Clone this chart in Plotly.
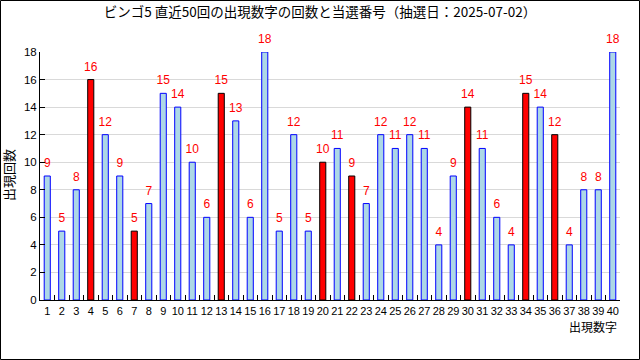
import plotly.graph_objects as go

numbers = [str(i) for i in range(1, 41)]
counts = [9, 5, 8, 16, 12, 9, 5, 7, 15, 14, 10, 6, 15, 13, 6, 18, 5, 12, 5, 10,
          11, 9, 7, 12, 11, 12, 11, 4, 9, 14, 11, 6, 4, 15, 14, 12, 4, 8, 8, 18]
winning = ["4", "7", "13", "20", "22", "30", "34", "36"]

title_text = "ビンゴ5 直近50回の出現数字の回数と当選番号（抽選日：2025-07-02）"
x_title = "出現数字"
y_title = "出現回数"

fill = ["#FF0000" if n in winning else "#ADD8E6" for n in numbers]
edge = ["#000000" if n in winning else "#0000FF" for n in numbers]

W, H = 640, 360
L, R, T, B = 40, 20, 52, 60
pw, ph = W - L - R, H - T - B

fig = go.Figure()
fig.add_trace(go.Bar(
    x=numbers, y=counts,
    marker=dict(color=fill, line=dict(color=edge, width=1)),
    width=0.42, hoverinfo="x+y",
))
fig.add_trace(go.Scatter(
    x=numbers, y=counts, mode="markers+text", text=[str(c) for c in counts],
    textposition="top center", cliponaxis=False,
    marker=dict(size=8, opacity=0),
    textfont=dict(color="#FF0000", size=12, family="Liberation Sans"),
    hoverinfo="skip",
))

fig.update_layout(
    width=W, height=H, margin=dict(l=L, r=R, t=T, b=B),
    paper_bgcolor="white", plot_bgcolor="white",
    showlegend=False,
    font=dict(family="Liberation Sans, Noto Sans CJK JP", size=11, color="#000000"),
    title=dict(text=title_text, x=0.5, xanchor="center", y=1 - 12 / H, yanchor="middle",
               font=dict(family="Noto Sans CJK JP", size=13.5, color="#000000")),
    xaxis=dict(type="category", range=[-0.5, 39.5], showline=True, linecolor="#000000",
               linewidth=1, ticks="inside", ticklen=5, tickcolor="#000000",
               tickson="boundaries", showgrid=False, tickfont=dict(size=11), tickangle=0,
               ticklabelstandoff=1),
    yaxis=dict(range=[0, 18], dtick=2, showline=True, linecolor="#000000", linewidth=1,
               ticks="inside", ticklen=5, tickcolor="#000000",
               showgrid=True, gridcolor="#D9D9D9", gridwidth=1, zeroline=False,
               tickfont=dict(size=11.5)),
    annotations=[
        dict(text=x_title, xref="paper", yref="paper", x=(619 - L) / pw, y=(300 - 326) / ph,
             xanchor="right", yanchor="middle", showarrow=False,
             font=dict(family="Noto Sans CJK JP", size=12, color="#000000")),
        dict(text=y_title, xref="paper", yref="paper", x=(8 - L) / pw, y=(300 - 175) / ph,
             xanchor="center", yanchor="middle", textangle=-90, showarrow=False,
             font=dict(family="Noto Sans CJK JP", size=13, color="#000000")),
    ],
    shapes=[dict(type="rect", xref="paper", yref="paper",
                 x0=(0.5 - L) / pw, x1=(639.5 - L) / pw,
                 y0=(300 - 359.5) / ph, y1=(300 - 0.5) / ph,
                 line=dict(color="#000000", width=1), layer="below")],
)

fig.write_html("out.html", config={"displayModeBar": False},
               post_script="document.body.style.margin='0';")
